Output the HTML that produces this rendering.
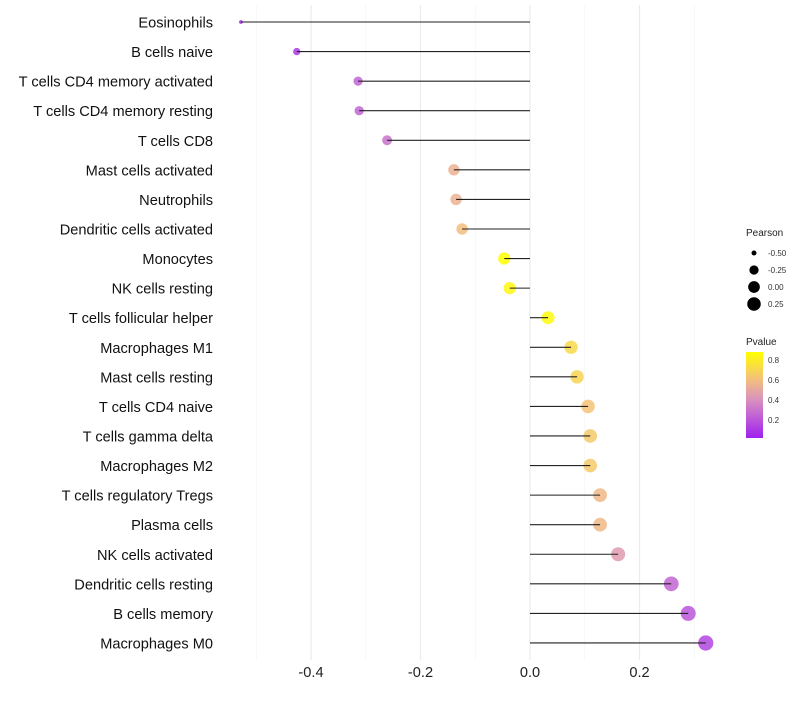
<!DOCTYPE html>
<html><head><meta charset="utf-8"><style>
body{margin:0;background:#fff;}
svg text{font-family:"Liberation Sans",sans-serif;}
</style></head><body>
<svg id="chart" width="800" height="700" xmlns="http://www.w3.org/2000/svg">
<defs><linearGradient id="pg" x1="0" y1="1" x2="0" y2="0">
<stop offset="0" stop-color="#a020f0"/><stop offset="0.44" stop-color="#d890c0"/><stop offset="0.67" stop-color="#f3bd80"/><stop offset="1" stop-color="#ffff00"/></linearGradient></defs>
<g id="grid"></g><g id="points"></g><g id="stems"></g><g id="labels"></g><g id="xticks"></g>
<g>
<text x="746" y="236" font-size="10" fill="#222">Pearson</text>
<g id="sizeLegend"></g>
<text x="746" y="345" font-size="10" fill="#222">Pvalue</text>
<rect x="746" y="352" width="17" height="86" fill="url(#pg)"/>
<g id="colorLegend"></g>
</g>
</svg>
<script>
const categories=["Eosinophils","B cells naive","T cells CD4 memory activated","T cells CD4 memory resting","T cells CD8","Mast cells activated","Neutrophils","Dendritic cells activated","Monocytes","NK cells resting","T cells follicular helper","Macrophages M1","Mast cells resting","T cells CD4 naive","T cells gamma delta","Macrophages M2","T cells regulatory  Tregs","Plasma cells","NK cells activated","Dendritic cells resting","B cells memory","Macrophages M0"];
const pearson=[-0.528,-0.426,-0.314,-0.312,-0.261,-0.139,-0.135,-0.124,-0.047,-0.037,0.033,0.075,0.086,0.106,0.110,0.110,0.128,0.128,0.161,0.258,0.289,0.321];
const pvalue=[0.05,0.1,0.25,0.25,0.3,0.55,0.55,0.6,0.88,0.85,0.86,0.72,0.7,0.62,0.65,0.65,0.58,0.58,0.45,0.25,0.2,0.15];
const xTicks=[-0.4,-0.2,0,0.2];
const xMinor=[-0.5,-0.3,-0.1,0.1,0.3];
const sizeLegendVals=[-0.5,-0.25,0,0.25];
const colorLegendVals=[0.8,0.6,0.4,0.2];
const NS="http://www.w3.org/2000/svg";
const X=v=>530+v*547.5;
const Y=i=>22+i*29.57;
const R=v=>1.6+6*Math.sqrt(Math.max(0,(v+0.53)/0.85));
const stops=[[0.02,[160,32,240]],[0.4,[216,144,192]],[0.6,[243,189,128]],[0.88,[255,255,0]]];
function col(p){p=Math.max(0.02,Math.min(0.88,p));for(let k=0;k<stops.length-1;k++){const a=stops[k],b=stops[k+1];if(p<=b[0]){const t=(p-a[0])/(b[0]-a[0]);return "rgb("+a[1].map((c,j)=>Math.round(c+(b[1][j]-c)*t)).join(",")+")";}}return "rgb(255,255,0)";}
function mk(t,a,parent){const e=document.createElementNS(NS,t);for(const k in a)e.setAttribute(k,a[k]);document.getElementById(parent).appendChild(e);return e;}
xMinor.forEach(v=>{const l=mk("line",{x1:X(v),x2:X(v),y1:5,y2:660,stroke:"#f4f4f4","stroke-width":0.8},"grid");

});
xTicks.forEach(v=>{const l=mk("line",{x1:X(v),x2:X(v),y1:5,y2:660,stroke:"#ebebeb","stroke-width":1.2},"grid");


const t=mk("text",{x:X(v),y:677,"font-size":14.6,"text-anchor":"middle",fill:"#222"},"xticks");t.textContent=v===0?"0.0":v.toFixed(1);

});
categories.forEach((c,i)=>{
const p=mk("circle",{cx:X(pearson[i]),cy:Y(i),r:R(pearson[i]),fill:col(pvalue[i]),"fill-opacity":0.85},"points");


const s=mk("line",{x1:X(0),x2:X(pearson[i]),y1:Y(i),y2:Y(i),stroke:"#222","stroke-width":1.1},"stems");


const t=mk("text",{x:213,y:Y(i)+5.5,"font-size":14.6,"text-anchor":"end",fill:"#111"},"labels");t.textContent=c;

});
sizeLegendVals.forEach((v,k)=>{const y=253+k*17;
const c=mk("circle",{cx:754,cy:y,r:R(v)*0.92,fill:"#000"},"sizeLegend");


const t=mk("text",{x:768,y:y+3,"font-size":8,fill:"#333"},"sizeLegend");t.textContent=v.toFixed(2);

});
colorLegendVals.forEach(v=>{const y=360+(0.8-v)*100;
const t=mk("text",{x:768,y:y+3,"font-size":8,fill:"#333"},"colorLegend");t.textContent=v.toFixed(1);

});
</script>
</body></html>
